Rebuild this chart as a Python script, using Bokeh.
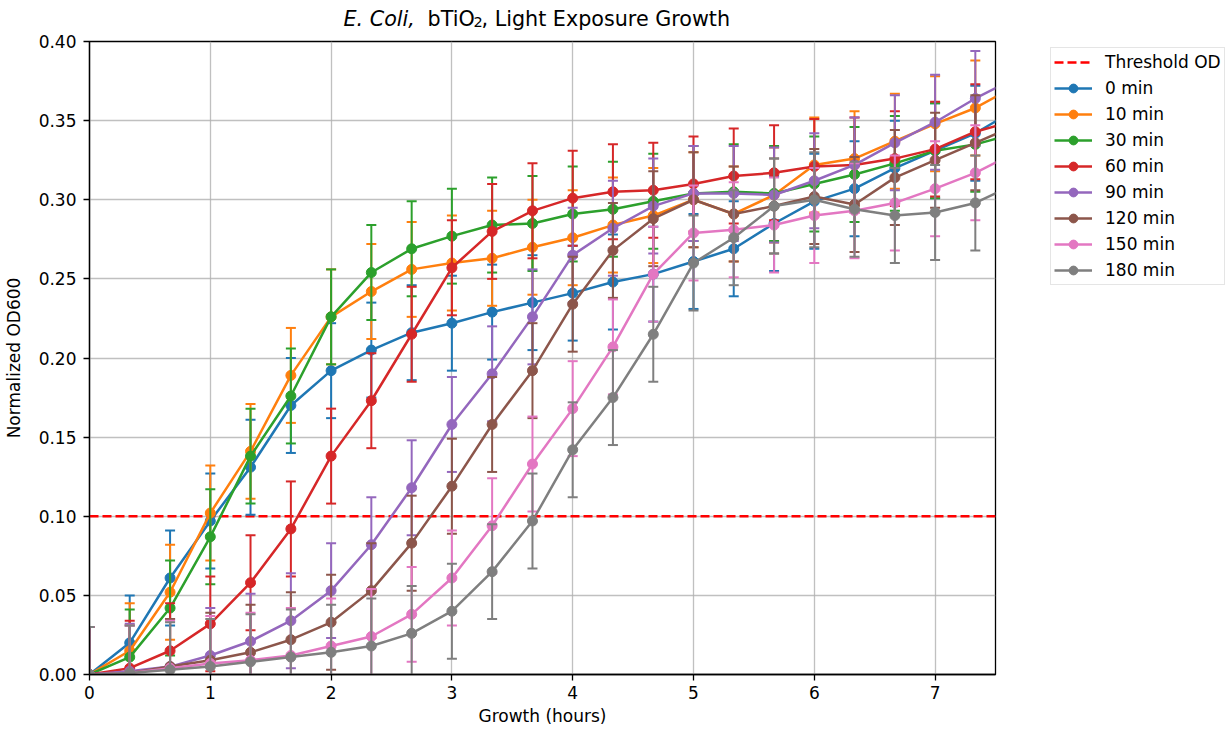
from bokeh.plotting import figure
from bokeh.layouts import row, column
from bokeh.models import (ColumnDataSource, Legend, LegendItem, Label, FixedTicker,
                          NumeralTickFormatter, Range1d)
from bokeh.embed import file_html
from bokeh.resources import INLINE

# Sampling times (hours), one reading every 20 minutes
HOURS = [0.0, 0.333, 0.667, 1.0, 1.333, 1.667, 2.0, 2.333, 2.667, 3.0, 3.333, 3.667,
         4.0, 4.333, 4.667, 5.0, 5.333, 5.667, 6.0, 6.333, 6.667, 7.0, 7.333, 7.667]

EXPOSURES = ["0 min", "10 min", "30 min", "60 min", "90 min", "120 min", "150 min", "180 min"]

# Normalized OD600 per light-exposure time
OD_0 = [0.000, 0.020, 0.061, 0.097, 0.131, 0.170, 0.192, 0.205, 0.216, 0.222, 0.229, 0.235,
        0.241, 0.248, 0.253, 0.261, 0.269, 0.285, 0.299, 0.307, 0.320, 0.331, 0.342, 0.357]
OD_10 = [0.000, 0.015, 0.052, 0.102, 0.141, 0.189, 0.226, 0.242, 0.256, 0.260, 0.263, 0.270,
         0.276, 0.284, 0.290, 0.300, 0.291, 0.303, 0.322, 0.326, 0.337, 0.348, 0.358, 0.372]
OD_30 = [0.000, 0.011, 0.042, 0.087, 0.138, 0.176, 0.226, 0.254, 0.269, 0.277, 0.284, 0.285,
         0.291, 0.294, 0.299, 0.304, 0.305, 0.304, 0.310, 0.316, 0.323, 0.331, 0.335, 0.342]
OD_60 = [0.000, 0.004, 0.015, 0.032, 0.058, 0.092, 0.138, 0.173, 0.215, 0.257, 0.280, 0.293,
         0.301, 0.305, 0.306, 0.310, 0.315, 0.317, 0.321, 0.322, 0.326, 0.332, 0.343, 0.350]
OD_90 = [0.000, 0.002, 0.005, 0.012, 0.021, 0.034, 0.053, 0.082, 0.118, 0.158, 0.190, 0.226,
         0.265, 0.282, 0.296, 0.304, 0.304, 0.303, 0.312, 0.322, 0.336, 0.349, 0.364, 0.377]
OD_120 = [0.000, 0.001, 0.005, 0.009, 0.014, 0.022, 0.033, 0.053, 0.083, 0.119, 0.158, 0.192,
          0.234, 0.268, 0.288, 0.300, 0.291, 0.296, 0.302, 0.297, 0.314, 0.325, 0.336, 0.347]
OD_150 = [0.000, 0.001, 0.004, 0.007, 0.009, 0.012, 0.018, 0.024, 0.038, 0.061, 0.094, 0.133,
          0.168, 0.207, 0.253, 0.279, 0.281, 0.284, 0.290, 0.293, 0.298, 0.307, 0.317, 0.330]
OD_180 = [0.000, 0.001, 0.003, 0.005, 0.008, 0.011, 0.014, 0.018, 0.026, 0.040, 0.065, 0.097,
          0.142, 0.175, 0.215, 0.260, 0.276, 0.296, 0.300, 0.294, 0.290, 0.292, 0.298, 0.310]

SERIES = [OD_0, OD_10, OD_30, OD_60, OD_90, OD_120, OD_150, OD_180]
OD_SD = 0.03          # standard deviation shown as error bars
THRESHOLD = 0.10      # threshold OD

X_TICKS = [0, 1, 2, 3, 4, 5, 6, 7]
Y_TICKS = [0.0, 0.05, 0.10, 0.15, 0.20, 0.25, 0.30, 0.35, 0.40]

COLORS = ["#1f77b4", "#ff7f0e", "#2ca02c", "#d62728",
          "#9467bd", "#8c564b", "#e377c2", "#7f7f7f"]

FONT = "DejaVu Sans"
THRESHOLD_STYLE = dict(line_color="#ff0000", line_width=2.5, line_dash="9 4")


def blank_canvas(width, height, left=0, right=0):
    """A figure without axes or grid, used for the title strip and the legend column."""
    f = figure(width=width, height=height, output_backend="svg", toolbar_location=None,
               x_range=Range1d(1, 2), y_range=Range1d(1, 2),
               x_axis_type=None, y_axis_type=None,
               min_border_left=left, min_border_right=right,
               min_border_top=0, min_border_bottom=0)
    f.outline_line_color = None
    f.background_fill_color = "white"
    f.border_fill_color = "white"
    return f


# ---- main plot -------------------------------------------------------------
p = figure(width=1000, height=699, output_backend="svg", toolbar_location=None,
           x_range=Range1d(0, 7.5), y_range=Range1d(0, 0.40),
           min_border_left=87, min_border_right=5, min_border_top=10, min_border_bottom=56)

p.background_fill_color = "white"
p.border_fill_color = "white"
p.outline_line_color = "black"
p.outline_line_width = 1.3

p.xaxis.ticker = FixedTicker(ticks=X_TICKS)
p.yaxis.ticker = FixedTicker(ticks=Y_TICKS)
p.yaxis.formatter = NumeralTickFormatter(format="0.00")

for ax in (p.xaxis[0], p.yaxis[0]):
    ax.axis_line_color = "black"
    ax.axis_line_width = 1.3
    ax.major_tick_line_color = "black"
    ax.major_tick_line_width = 1.3
    ax.major_tick_out = 6
    ax.major_tick_in = 0
    ax.minor_tick_line_color = None
    ax.major_label_text_font = FONT
    ax.major_label_text_font_size = "17px"
    ax.major_label_text_color = "black"
    ax.axis_label_text_font = FONT
    ax.axis_label_text_font_size = "17px"
    ax.axis_label_text_font_style = "normal"
    ax.axis_label_text_color = "black"

p.xaxis.axis_label = "Growth (hours)"
p.yaxis.axis_label = "Normalized OD600"
p.xaxis.major_label_standoff = 5
p.xaxis.axis_label_standoff = 4
p.yaxis.major_label_standoff = 7
p.yaxis.axis_label_standoff = 12

p.grid.grid_line_color = "#b0b0b0"
p.grid.grid_line_alpha = 0.8
p.grid.grid_line_width = 1.3

# Threshold OD line across the whole time span
p.line(x=[HOURS[0], HOURS[-1]], y=[THRESHOLD, THRESHOLD], **THRESHOLD_STYLE)

for vals, color in zip(SERIES, COLORS):
    src = ColumnDataSource(dict(
        x=HOURS, y=vals,
        lo=[v - OD_SD for v in vals],
        hi=[v + OD_SD for v in vals],
    ))
    p.segment(x0="x", y0="lo", x1="x", y1="hi", source=src, line_color=color, line_width=2)
    p.scatter(x="x", y="lo", source=src, marker="dash", size=10, line_color=color, line_width=2)
    p.scatter(x="x", y="hi", source=src, marker="dash", size=10, line_color=color, line_width=2)
    p.line(x="x", y="y", source=src, line_color=color, line_width=2.5)
    p.scatter(x="x", y="y", source=src, size=10, fill_color=color, line_color=color,
              line_width=1)

# ---- title strip (frame shares the plot's left edge) -----------------------
t = blank_canvas(1000, 31, left=87, right=5)
title_parts = [
    ("E. Coli,", 254, 13.0, "20.7px", "italic"),
    ("bTiO", 338, 13.0, "20.7px", "normal"),
    ("2", 384, 9.5, "14.5px", "normal"),
    (", Light Exposure Growth", 392, 13.0, "20.7px", "normal"),
]
for text, tx, ty, size, style in title_parts:
    t.add_layout(Label(x=tx, y=ty, x_units="screen", y_units="screen", text=text,
                       text_font=FONT, text_font_size=size, text_font_style=style,
                       text_color="black", text_baseline="alphabetic", text_align="left"))

# ---- legend column ---------------------------------------------------------
lg = blank_canvas(231, 730)
items = []
proxy = lg.line(x=[0, 0], y=[0, 0], **THRESHOLD_STYLE)
items.append(LegendItem(label="Threshold OD", renderers=[proxy]))
for name, color in zip(EXPOSURES, COLORS):
    ln = lg.line(x=[0, 0], y=[0, 0], line_color=color, line_width=2.5)
    dot = lg.scatter(x=[0], y=[0], size=10, fill_color=color, line_color=color, line_width=1)
    items.append(LegendItem(label=name, renderers=[ln, dot]))

legend = Legend(items=items, location=(50, 445))
legend.label_text_font = FONT
legend.label_text_font_size = "17px"
legend.label_text_color = "black"
legend.glyph_width = 38
legend.glyph_height = 22
legend.label_height = 22
legend.spacing = 4
legend.padding = 3
legend.margin = 0
legend.label_standoff = 13
legend.border_line_color = "#cccccc"
legend.border_line_width = 1
legend.background_fill_color = "white"
legend.background_fill_alpha = 0.9
lg.add_layout(legend)

layout = row(column(t, p), lg)
open("out.html", "w").write(file_html(layout, INLINE))
